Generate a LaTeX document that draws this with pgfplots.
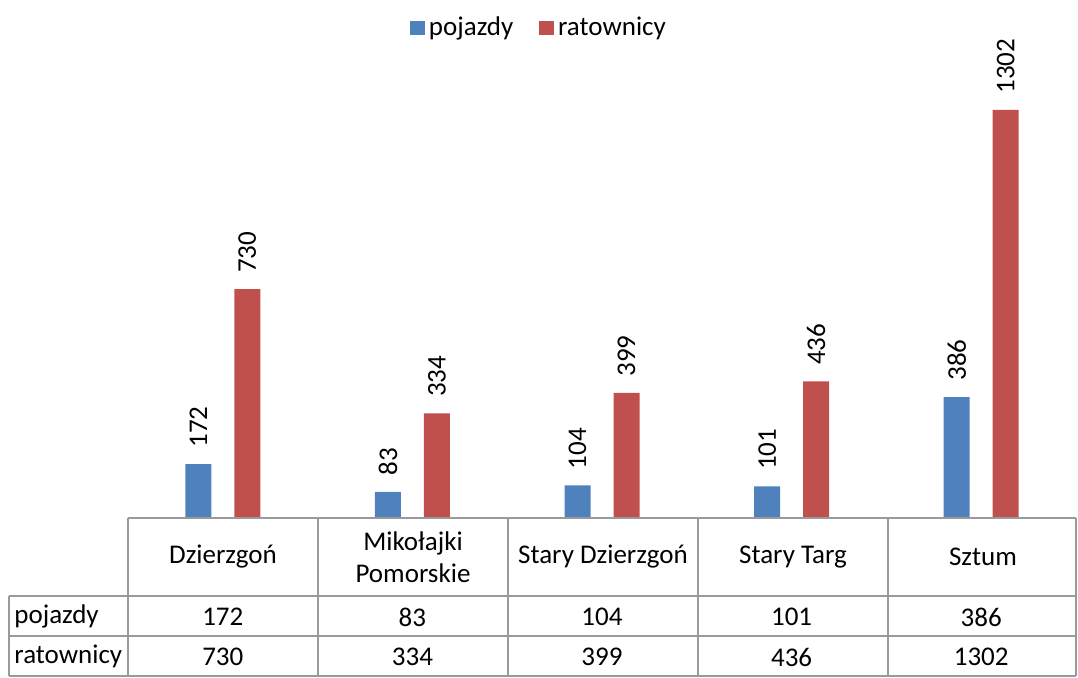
\documentclass[border=0pt]{standalone}
\usepackage{pgfplots}
\pgfplotsset{compat=1.18}
\usepackage{pgfplotstable}
\usepackage{fontspec}
\setmainfont{Carlito}
\definecolor{xblue}{HTML}{4F81BD}
\definecolor{xred}{HTML}{C0504D}
\definecolor{grid}{HTML}{9A9A9A}

\pgfplotstableread{
x pojazdy ratownicy
0 172 730
1 83 334
2 104 399
3 101 436
4 386 1302
}\data

\begin{document}
\begin{tikzpicture}[x=0.5pt,y=0.5pt]
\fontsize{13.5}{16}\selectfont
\useasboundingbox (0,0) rectangle (1078,677);
\begin{axis}[
  at={(64pt,79.5pt)}, anchor=south west,
  scale only axis, width=474pt, height=229pt,
  xmin=-0.5, xmax=4.5, ymin=0, ymax=1461,
  axis lines=none, clip=false,
  xtick=data,
  /pgf/number format/assume math mode=true,
  /pgf/number format/1000 sep={},
  every node near coord/.append style={font=\fontsize{13.5}{16}\selectfont},
  legend style={draw=none, at={(0.4346,1.070)}, anchor=center,
    legend columns=2, font=\fontsize{13.5}{16}\selectfont,
    /tikz/every even column/.append style={column sep=11pt}},
  legend image code/.code={\fill[#1] (0pt,-3.7pt) rectangle (7.4pt,3.7pt);},
]
\addplot[ybar, bar width=13pt, bar shift=-12.25pt, fill=xblue, draw=none,
  nodes near coords, nodes near coords style={rotate=90, anchor=west, xshift=3.5pt, yshift=12.25pt}]
  table[x=x, y=pojazdy] {\data};
\addlegendentry{pojazdy}
\addplot[ybar, bar width=13pt, bar shift=12.25pt, fill=xred, draw=none,
  nodes near coords, nodes near coords style={rotate=90, anchor=west, xshift=3.5pt, yshift=-12.25pt}]
  table[x=x, y=ratownicy] {\data};
\addlegendentry{ratownicy}
% table values
\addplot[forget plot, draw=none, mark=none, nodes near coords, point meta=explicit,
  nodes near coords style={anchor=center, yshift=-49.5pt}]
  table[x=x, y expr=0, meta=pojazdy] {\data};
\addplot[forget plot, draw=none, mark=none, nodes near coords, point meta=explicit,
  nodes near coords style={anchor=center, yshift=-69.5pt}]
  table[x=x, y expr=0, meta=ratownicy] {\data};
\end{axis}
% table grid
\begin{scope}[draw=grid, line width=1pt]
\draw (128,159) -- (1076,159);
\draw (9,81) -- (1076,81);
\draw (9,41) -- (1076,41);
\draw (9,1) -- (1076,1);
\draw (9,81) -- (9,1);
\foreach \xx in {128,318,508,698,888,1076} \draw (\xx,159) -- (\xx,1);
\end{scope}
% category names
\node at (223,120) {Dzierzgoń};
\node[align=center] at (413,120) {Mikołajki\\Pomorskie};
\node at (603,120) {Stary Dzierzgoń};
\node at (793,120) {Stary Targ};
\node at (983,120) {Sztum};
\node[anchor=west, inner sep=0pt] at (14,61) {pojazdy};
\node[anchor=west, inner sep=0pt] at (14,21) {ratownicy};
\end{tikzpicture}
\end{document}
